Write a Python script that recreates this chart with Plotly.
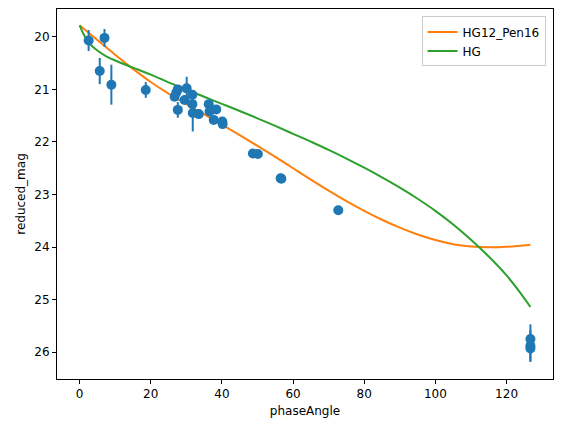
import plotly.graph_objects as go

# Observations
phase_angle = [2.54, 7.0, 5.66, 8.93, 18.6, 27.2, 27.6, 26.7, 27.6, 30.1, 29.5, 31.7, 31.7,
               31.8, 33.5, 36.3, 36.5, 38.4, 37.7, 40.1, 40.2, 48.7, 50.1, 56.5, 56.7, 72.7,
               126.7, 126.7, 126.7]
reduced_mag = [20.07, 20.02, 20.65, 20.91, 21.01, 21.06, 21.00, 21.14, 21.39, 20.98, 21.20, 21.10, 21.28,
               21.45, 21.47, 21.28, 21.42, 21.38, 21.58, 21.61, 21.66, 22.22, 22.23, 22.69, 22.70, 23.30,
               25.75, 25.88, 25.93]
mag_err = [0.20, 0.17, 0.25, 0.38, 0.15, 0.08, 0.08, 0.06, 0.15, 0.22, 0.08, 0.08, 0.10,
           0.35, 0.05, 0.08, 0.06, 0.05, 0.05, 0.05, 0.05, 0.04, 0.04, 0.05, 0.05, 0.05,
           0.28, 0.30, 0.25]

# Fitted model curves
hg12_x = [0, 5, 10, 15, 20, 25, 30, 35, 40, 45, 50, 55, 60, 65, 70, 75, 80, 85, 90, 95,
          100, 105, 110, 115, 120, 126.7]
hg12_y = [19.78, 20.06, 20.34, 20.61, 20.86, 21.08, 21.28, 21.475, 21.67, 21.87, 22.075, 22.285,
          22.50, 22.715, 22.925, 23.125, 23.31, 23.48, 23.63, 23.76, 23.865, 23.945, 23.99, 24.005,
          23.995, 23.955]
hg_x = [0, 1, 2, 3, 5, 7.5, 10, 15, 20, 25, 30, 35, 40, 45, 50, 55, 60, 65, 70, 75, 80, 85,
        90, 95, 100, 105, 110, 115, 120, 123.4, 126.7]
hg_y = [19.78, 19.93, 20.05, 20.14, 20.26, 20.37, 20.45, 20.585, 20.72, 20.865, 21.005, 21.14,
        21.275, 21.41, 21.55, 21.695, 21.845, 21.995, 22.15, 22.315, 22.49, 22.675, 22.87, 23.08,
        23.31, 23.57, 23.86, 24.18, 24.54, 24.83, 25.14]

fig = go.Figure()
fig.add_trace(go.Scatter(x=hg12_x, y=hg12_y, mode="lines", name="HG12_Pen16",
                         line=dict(color="#ff7f0e", width=2, shape="spline", smoothing=1)))
fig.add_trace(go.Scatter(x=hg_x, y=hg_y, mode="lines", name="HG",
                         line=dict(color="#2ca02c", width=2, shape="spline", smoothing=1)))
fig.add_trace(go.Scatter(x=phase_angle, y=reduced_mag, mode="markers", showlegend=False,
                         marker=dict(color="#1f77b4", size=10),
                         error_y=dict(type="data", array=mag_err, color="#1f77b4",
                                      thickness=2, width=0)))

axis_common = dict(showline=True, linecolor="black", linewidth=1, mirror=True,
                   ticks="outside", ticklen=4, tickcolor="black", showgrid=False,
                   zeroline=False, tickfont=dict(family="DejaVu Sans", size=12, color="black"),
                   title_font=dict(family="DejaVu Sans", size=12, color="black"))

fig.update_layout(
    width=563, height=432,
    margin=dict(l=57, r=10, t=9, b=53),
    paper_bgcolor="white", plot_bgcolor="white",
    font=dict(family="DejaVu Sans", size=12, color="black"),
    xaxis=dict(range=[-6.35, 133.05], tickvals=[0, 20, 40, 60, 80, 100, 120],
               title=dict(text="phaseAngle", standoff=6), **axis_common),
    yaxis=dict(range=[26.51, 19.47], tickvals=[20, 21, 22, 23, 24, 25, 26],
               title=dict(text="reduced_mag", standoff=6), **axis_common),
    legend=dict(x=0.985, y=0.98, xanchor="right", yanchor="top",
                bordercolor="#cccccc", borderwidth=1, bgcolor="rgba(255,255,255,0.8)",
                font=dict(family="DejaVu Sans", size=12)),
)

fig.write_html("out.html")
